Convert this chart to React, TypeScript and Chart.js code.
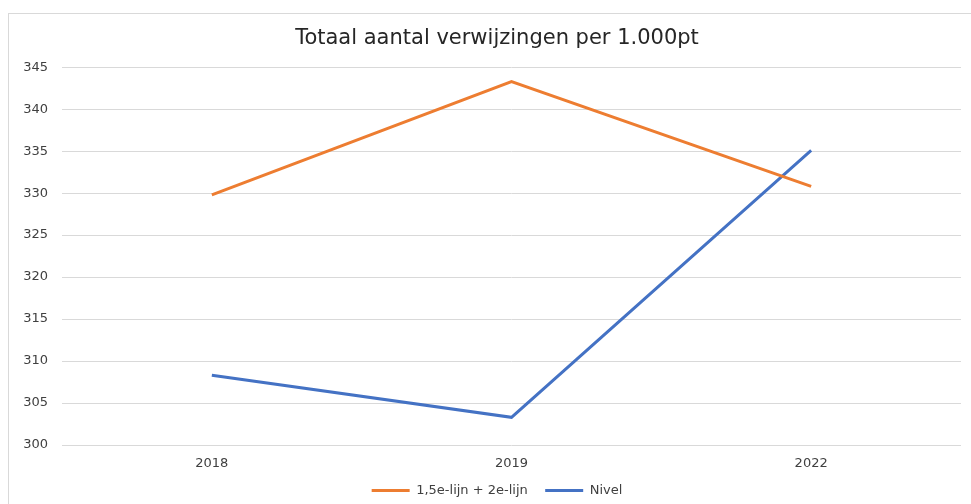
import React, { useEffect, useRef } from "react";
import { Chart, registerables } from "chart.js";

Chart.register(...registerables);

const categories = ["2018", "2019", "2022"];
const seriesLijn = [329.8, 343.3, 330.8];
const seriesNivel = [308.3, 303.3, 335.1];
const yTicks = [300, 305, 310, 315, 320, 325, 330, 335, 340, 345];

const FONT = "'DejaVu Sans', sans-serif";

export default function App() {
  const ref = useRef<HTMLCanvasElement>(null);
  useEffect(() => {
    if (!ref.current) return;
    const chart = new Chart(ref.current, {
      type: "line",
      data: {
        labels: categories,
        datasets: [
          {
            label: "1,5e-lijn + 2e-lijn",
            data: seriesLijn,
            borderColor: "#ED7D31",
            backgroundColor: "#ED7D31",
            borderWidth: 3,
            pointRadius: 0,
            tension: 0,
          },
          {
            label: "Nivel",
            data: seriesNivel,
            borderColor: "#4472C4",
            backgroundColor: "#4472C4",
            borderWidth: 3,
            pointRadius: 0,
            tension: 0,
          },
        ],
      },
      options: {
        responsive: false,
        animation: false,
        layout: { padding: { left: 0, right: 0, top: 0, bottom: -3 } },
        plugins: {
          title: {
            display: true,
            text: "Totaal aantal verwijzingen per 1.000pt",
            color: "#262626",
            font: { family: FONT, size: 21, weight: "normal" },
            padding: { top: 26, bottom: 16 },
          },
          legend: {
            position: "bottom",
            labels: {
              usePointStyle: true,
              pointStyle: "line",
              pointStyleWidth: 38,
              boxHeight: 11,
              color: "#404040",
              font: { family: FONT, size: 13 },
              padding: 5,
              generateLabels: (c: any) => {
                const items = Chart.defaults.plugins.legend.labels.generateLabels(c);
                items.forEach((it: any, i: number) => {
                  if (i < items.length - 1) it.text = it.text + "   ";
                });
                return items;
              },
            },
          },
          tooltip: { enabled: false },
        },
        scales: {
          x: {
            offset: true,
            grid: { display: false },
            border: { display: false },
            ticks: {
              color: "#404040",
              font: { family: FONT, size: 13 },
              padding: 3,
            },
            afterFit: (s: any) => {
              s.height = 34;
            },
          },
          y: {
            min: 300,
            max: 345,
            afterBuildTicks: (s: any) => {
              s.ticks = yTicks.map((v) => ({ value: v }));
            },
            grid: { color: "#d9d9d9", lineWidth: 1, drawTicks: false },
            border: { display: false },
            ticks: {
              color: "#404040",
              font: { family: FONT, size: 13 },
              padding: 14,
            },
            afterFit: (s: any) => {
              s.width = 62;
            },
          },
          spacer: {
            type: "linear",
            position: "right",
            display: true,
            grid: { display: false },
            border: { display: false },
            ticks: { display: false },
            afterFit: (s: any) => {
              s.width = 33;
            },
          },
        },
      },
    });
    return () => chart.destroy();
  }, []);
  return (
    <div
      style={{
        position: "fixed",
        left: 0,
        top: 0,
        width: 971,
        height: 504,
        background: "#fff",
        overflow: "hidden",
      }}
    >
      <div
        style={{
          position: "absolute",
          left: 8,
          top: 13,
          width: 990,
          height: 500,
          border: "1px solid #d9d9d9",
          boxSizing: "border-box",
        }}
      />
      <canvas ref={ref} width={994} height={504} style={{ position: "absolute", left: 0, top: 0 }} />
    </div>
  );
}
